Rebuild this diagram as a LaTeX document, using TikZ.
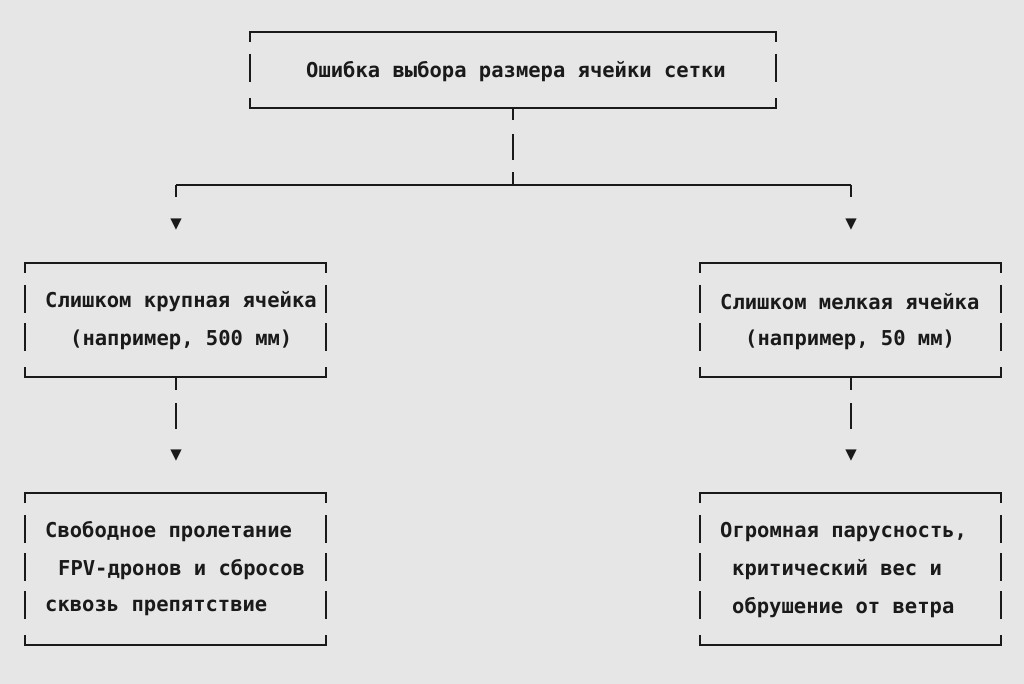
\documentclass[tikz,border=0pt]{standalone}
\usepackage{fontspec}
\setmonofont{DejaVu Sans Mono}
\usetikzlibrary{calc}
\definecolor{bgcol}{HTML}{E6E6E6}
\definecolor{inkcol}{HTML}{1A1A1A}
\tikzset{
  ln/.style={line width=1.4pt,color=inkcol},
  txt/.style={font=\ttfamily\bfseries\fontsize{20.5}{20.5}\selectfont,color=inkcol,anchor=west,inner sep=0pt},
  tip/.style={font=\ttfamily\fontsize{19}{19}\selectfont,color=inkcol,inner sep=0pt}
}
% ascii box: left x, right x, top y, number of rows
\newcommand{\asciibox}[4]{%
  \draw[ln] (#1,#3+10) -- (#1,#3) -- (#2,#3) -- (#2,#3+10);
  \foreach \r in {1,...,#4}{
    \draw[ln] (#1,#3+38*\r-16) -- (#1,#3+38*\r+12);
    \draw[ln] (#2,#3+38*\r-16) -- (#2,#3+38*\r+12);
  }
  \draw[ln] (#1,#3+38*#4+28) -- (#1,#3+38*#4+38) -- (#2,#3+38*#4+38) -- (#2,#3+38*#4+28);
}
\begin{document}
\begin{tikzpicture}[x=1pt,y=-1pt]
\fill[bgcol] (0,0) rectangle (1024,684);
\useasboundingbox (0,0) rectangle (1024,684);
% boxes
\asciibox{250}{776}{32}{1}
\asciibox{25}{326}{263}{2}
\asciibox{700}{1001}{263}{2}
\asciibox{25}{326}{493}{3}
\asciibox{700}{1001}{493}{3}
% texts
\node[txt] (root) at (306,72) {Ошибка выбора размера ячейки сетки};
\node[txt] (bigA) at (45,302) {Слишком крупная ячейка};
\node[txt] (bigB) at (70,340) {(например, 500 мм)};
\node[txt] (smlA) at (720,302) {Слишком мелкая ячейка};
\node[txt] (smlB) at (745,340) {(например, 50 мм)};
\node[txt] (flyA) at (45,532) {Свободное пролетание};
\node[txt] (flyB) at (58,570) {FPV-дронов и сбросов};
\node[txt] (flyC) at (45,608) {сквозь препятствие};
\node[txt] (sailA) at (720,532) {Огромная парусность,};
\node[txt] (sailB) at (732,570) {критический вес и};
\node[txt] (sailC) at (732,608) {обрушение от ветра};
% connectors
\coordinate (rootS) at (513,108);
\coordinate (fork) at (513,185);
\coordinate (forkL) at (176,185);
\coordinate (forkR) at (851,185);
\draw[ln] (rootS) -- ++(0,12);
\draw[ln] (513,134) -- (513,160);
\draw[ln] (513,172) -- (fork);
\draw[ln] (forkL) |- (fork) -| (forkR);
\draw[ln] (forkL) -- ++(0,12);
\draw[ln] (forkR) -- ++(0,12);
\node[tip] (tipL) at (176,225) {▼};
\node[tip] (tipR) at (851,225) {▼};
\foreach \cx in {176,851}{
  \draw[ln] (\cx,378) -- (\cx,390);
  \draw[ln] (\cx,403) -- (\cx,429);
  \node[tip] at (\cx,456) {▼};
}
\end{tikzpicture}
\end{document}
